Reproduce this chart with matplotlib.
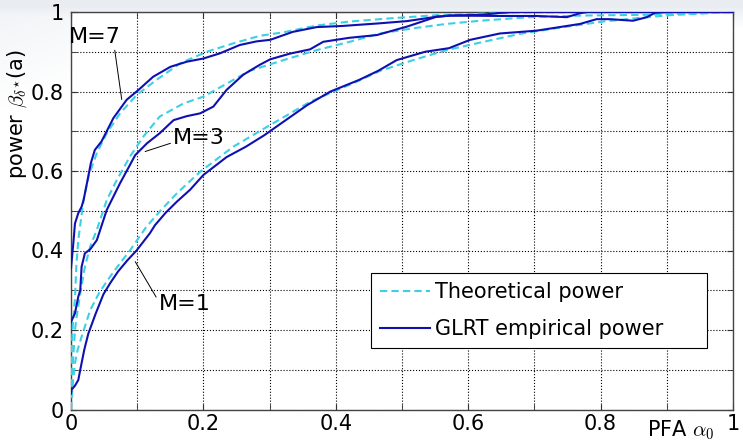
import numpy as np
import matplotlib
matplotlib.use('Agg')
import matplotlib.pyplot as plt

plt.rcParams['font.family'] = ['DejaVu Sans']
plt.rcParams['mathtext.fontset'] = 'cm'

# ---------------- data ----------------
# M=1
pfa_m1_emp = [0, 0.001, 0.006, 0.011, 0.014, 0.02, 0.026, 0.037, 0.049, 0.06,
              0.071, 0.085, 0.099, 0.119, 0.127, 0.143, 0.16, 0.18, 0.2, 0.235,
              0.264, 0.292, 0.321, 0.357, 0.392, 0.435, 0.464, 0.492, 0.535, 0.571,
              0.603, 0.648, 0.703, 0.769, 0.794, 0.814, 0.849, 0.87, 0.882, 0.9, 1.0]
pow_m1_emp = [0.04, 0.05, 0.06, 0.074, 0.10, 0.15, 0.19, 0.24, 0.29, 0.32,
              0.347, 0.375, 0.40, 0.443, 0.464, 0.495, 0.523, 0.553, 0.59, 0.635,
              0.661, 0.69, 0.724, 0.766, 0.80, 0.829, 0.852, 0.879, 0.90, 0.909,
              0.93, 0.946, 0.953, 0.97, 0.982, 0.982, 0.978, 0.987, 0.998, 1.0, 1.0]
pfa_m1_th = [0, 0.001, 0.003, 0.006, 0.01, 0.016, 0.029, 0.043, 0.059, 0.074,
             0.089, 0.114, 0.135, 0.16, 0.195, 0.245, 0.296, 0.361, 0.432, 0.467,
             0.517, 0.567, 0.618, 0.678, 0.744, 0.804, 0.87, 0.905, 0.95, 1.0]
pow_m1_th = [0, 0.03, 0.07, 0.117, 0.15, 0.183, 0.25, 0.295, 0.334, 0.368,
             0.40, 0.46, 0.50, 0.544, 0.598, 0.661, 0.711, 0.774, 0.825, 0.852,
             0.879, 0.904, 0.923, 0.945, 0.962, 0.976, 0.987, 0.992, 0.996, 1.0]

# M=3
pfa_m3_emp = [0, 0.0035, 0.006, 0.011, 0.014, 0.016, 0.021, 0.029, 0.039, 0.054,
              0.074, 0.089, 0.097, 0.115, 0.134, 0.155, 0.175, 0.195, 0.215, 0.235,
              0.26, 0.285, 0.301, 0.33, 0.361, 0.381, 0.42, 0.462, 0.507, 0.552,
              0.573, 0.65, 0.703, 0.749, 0.769, 0.78, 1.0]
pow_m3_emp = [0.22, 0.233, 0.242, 0.284, 0.30, 0.359, 0.393, 0.403, 0.426, 0.502,
              0.569, 0.615, 0.64, 0.67, 0.695, 0.728, 0.738, 0.745, 0.762, 0.804,
              0.842, 0.867, 0.881, 0.895, 0.906, 0.925, 0.935, 0.942, 0.963, 0.988,
              0.991, 0.99, 0.99, 0.987, 0.997, 1.0, 1.0]
pfa_m3_th = [0, 0.001, 0.0035, 0.006, 0.0085, 0.014, 0.021, 0.029, 0.039, 0.054,
             0.07, 0.089, 0.109, 0.134, 0.17, 0.2, 0.245, 0.27, 0.321, 0.371,
             0.421, 0.467, 0.517, 0.567, 0.618, 0.693, 0.769, 0.87, 0.95, 1.0]
pow_m3_th = [0, 0.08, 0.133, 0.20, 0.233, 0.292, 0.359, 0.41, 0.452, 0.527,
             0.58, 0.636, 0.686, 0.737, 0.77, 0.787, 0.829, 0.852, 0.879, 0.904,
             0.925, 0.946, 0.959, 0.97, 0.978, 0.987, 0.991, 0.993, 0.997, 1.0]

# M=7
pfa_m7_emp = [0, 0.0035, 0.006, 0.011, 0.016, 0.019, 0.025, 0.03, 0.036, 0.046,
              0.064, 0.084, 0.102, 0.124, 0.15, 0.175, 0.2, 0.225, 0.255, 0.28,
              0.301, 0.335, 0.371, 0.411, 0.462, 0.507, 0.552, 0.573, 0.62, 0.65,
              0.67, 1.0]
pow_m7_emp = [0.355, 0.418, 0.468, 0.494, 0.51, 0.527, 0.577, 0.62, 0.653, 0.674,
              0.733, 0.779, 0.804, 0.837, 0.862, 0.875, 0.883, 0.896, 0.917, 0.926,
              0.93, 0.95, 0.962, 0.965, 0.971, 0.977, 0.988, 0.991, 0.993, 0.998,
              1.0, 1.0]
pfa_m7_th = [0, 0.001, 0.003, 0.006, 0.008, 0.011, 0.015, 0.019, 0.027, 0.039,
             0.054, 0.074, 0.099, 0.129, 0.165, 0.205, 0.245, 0.285, 0.321, 0.371,
             0.421, 0.482, 0.552, 0.623, 0.7, 1.0]
pow_m7_th = [0, 0.15, 0.22, 0.28, 0.36, 0.426, 0.477, 0.527, 0.59, 0.645,
             0.695, 0.745, 0.791, 0.829, 0.871, 0.90, 0.921, 0.94, 0.949, 0.966,
             0.976, 0.984, 0.992, 0.996, 0.999, 1.0]

theory = [(pfa_m1_th, pow_m1_th), (pfa_m3_th, pow_m3_th), (pfa_m7_th, pow_m7_th)]
empirical = [(pfa_m1_emp, pow_m1_emp), (pfa_m3_emp, pow_m3_emp), (pfa_m7_emp, pow_m7_emp)]

major_ticks = [0, 0.2, 0.4, 0.6, 0.8, 1.0]
tick_labels = ['0', '0.2', '0.4', '0.6', '0.8', '1']
minor_ticks = [0.1, 0.3, 0.5, 0.7, 0.9]

c_theory = '#3dd0e4'
c_emp = '#1010b2'

# ---------------- figure ----------------
fig = plt.figure(figsize=(7.43, 4.41), dpi=100)
fig.patch.set_facecolor('white')

# light slide background wash (top strip + top-left corner)
bg = fig.add_axes([0, 0, 1, 1], zorder=-10)
yy, xx = np.mgrid[0:441, 0:743]
w = np.clip(1 - (yy - 6) / 22.0, 0, 1)
w = np.maximum(w, 0.7 * np.clip(1 - (0.35 * xx + yy) / 110.0, 0, 1))
base = np.array([0.915, 0.93, 0.948])
img = 1 - w[..., None] * (1 - base)
bg.imshow(img, aspect='auto', interpolation='bilinear')
bg.axis('off')

ax = fig.add_axes([71 / 743, 31.5 / 441, 662 / 743, 397.5 / 441])
ax.set_facecolor('white')

for i, (x, y) in enumerate(theory):
    ax.plot(x, y, color=c_theory, lw=1.5, dashes=(3.5, 2),
            label='Theoretical power' if i == 0 else None, zorder=3)
for i, (x, y) in enumerate(empirical):
    ax.plot(x, y, color=c_emp, lw=1.5,
            label='GLRT empirical power' if i == 0 else None, zorder=4)

ax.set_xlim(0, 1)
ax.set_ylim(0, 1)
ax.set_xticks(major_ticks, tick_labels)
ax.set_yticks(major_ticks, tick_labels)
ax.set_xticks(minor_ticks, minor=True)
ax.set_yticks(minor_ticks, minor=True)
ax.grid(True, which='both', color='black', linestyle=':', lw=0.8)
ax.tick_params(which='both', direction='in', length=4, top=True, right=True,
               labelsize=15, color='#333333')
ax.tick_params(axis='x', pad=3)
ax.tick_params(axis='y', pad=5)
for s in ax.spines.values():
    s.set_color('#444444')
    s.set_linewidth(1.0)

ax.set_ylabel(r'power $\beta_{\delta^{\star}}$(a)', fontsize=15)
ax.yaxis.set_label_coords(-0.063, 0.743)
ax.set_xlabel(r'PFA $\alpha_0$', fontsize=15, va='top')
ax.xaxis.set_label_coords(0.921, -0.022)

# curve labels
ax.annotate('M=7', xy=(0.0766, 0.78), xytext=(0.0363, 0.936), fontsize=16,
            ha='center', va='center',
            arrowprops=dict(arrowstyle='-', color='black', lw=0.7,
                            shrinkA=0, shrinkB=0, relpos=(0.87, 0.05)))
ax.annotate('M=3', xy=(0.112, 0.649), xytext=(0.1936, 0.682), fontsize=16,
            ha='center', va='center',
            arrowprops=dict(arrowstyle='-', color='black', lw=0.7,
                            shrinkA=0, shrinkB=0, relpos=(0.0, 0.3)))
ax.annotate('M=1', xy=(0.097, 0.372), xytext=(0.172, 0.265), fontsize=16,
            ha='center', va='center',
            arrowprops=dict(arrowstyle='-', color='black', lw=0.7,
                            shrinkA=0, shrinkB=0, relpos=(0.0, 0.62)))

leg = ax.legend(loc='upper left', bbox_to_anchor=(0.453, 0.149, 0.507, 0.194),
                mode='expand', fontsize=15, frameon=True, fancybox=False,
                edgecolor='black', framealpha=1, borderaxespad=0,
                handlelength=2.4, handletextpad=0.25, borderpad=0.42,
                labelspacing=0.82)
leg.get_frame().set_linewidth(0.8)

fig.savefig('out.png', dpi=100)
